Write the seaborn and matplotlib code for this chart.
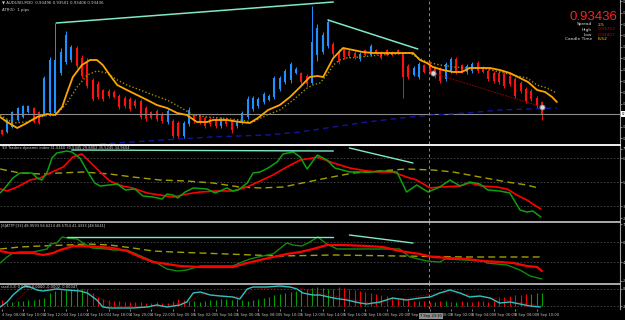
import numpy as np
import pandas as pd
import matplotlib
matplotlib.use('Agg')
import matplotlib.pyplot as plt
import matplotlib.transforms as mtrans
import seaborn as sns

sns.set_style('dark')
plt.rcParams['font.family'] = ['DejaVu Sans']

# ---- price candles (AUDUSD M30) ----
highs = [0.93361, 0.93411, 0.93451, 0.93471, 0.93481, 0.93481, 0.93471, 0.93451, 0.93626, 0.93721,
         0.93891, 0.93766, 0.93851, 0.93781, 0.93776, 0.93731, 0.93716, 0.93616, 0.93601, 0.93561,
         0.93561, 0.93556, 0.93536, 0.93526, 0.93521, 0.93511, 0.93511, 0.93476, 0.93451, 0.93461,
         0.93446, 0.93461, 0.93411, 0.93401, 0.93401, 0.93471, 0.93436, 0.93436, 0.93426, 0.93421,
         0.93421, 0.93421, 0.93421, 0.93411, 0.93411, 0.93451, 0.93526, 0.93526, 0.93521, 0.93546,
         0.93536, 0.93626, 0.93626, 0.93661, 0.93696, 0.93671, 0.93646, 0.93636, 0.93976, 0.93886,
         0.93846, 0.93911, 0.93796, 0.93761, 0.93771, 0.93761, 0.93751, 0.93746, 0.93761, 0.93786,
         0.93761, 0.93751, 0.93761, 0.93751, 0.93761, 0.93746, 0.93686, 0.93676, 0.93696, 0.93686,
         0.93701, 0.93676, 0.93671, 0.93696, 0.93721, 0.93721, 0.93686, 0.93686, 0.93696, 0.93701,
         0.93676, 0.93661, 0.93651, 0.93651, 0.93646, 0.93636, 0.93621, 0.93601, 0.93571, 0.93561,
         0.93526, 0.93501]
lows = [0.93331, 0.93341, 0.93366, 0.93401, 0.93416, 0.93441, 0.93391, 0.93386, 0.93426, 0.93426,
        0.93431, 0.93631, 0.93686, 0.93696, 0.93666, 0.93616, 0.93566, 0.93501, 0.93511, 0.93501,
        0.93516, 0.93516, 0.93461, 0.93466, 0.93451, 0.93466, 0.93411, 0.93401, 0.93411, 0.93401,
        0.93391, 0.93386, 0.93316, 0.93316, 0.93316, 0.93376, 0.93391, 0.93386, 0.93366, 0.93376,
        0.93366, 0.93366, 0.93376, 0.93341, 0.93366, 0.93386, 0.93411, 0.93451, 0.93466, 0.93486,
        0.93501, 0.93511, 0.93551, 0.93586, 0.93591, 0.93636, 0.93586, 0.93576, 0.93586, 0.93701,
        0.93736, 0.93766, 0.93726, 0.93686, 0.93711, 0.93716, 0.93711, 0.93701, 0.93726, 0.93726,
        0.93736, 0.93711, 0.93726, 0.93726, 0.93736, 0.93516, 0.93611, 0.93626, 0.93611, 0.93641,
        0.93641, 0.93616, 0.93591, 0.93601, 0.93641, 0.93636, 0.93641, 0.93636, 0.93641, 0.93641,
        0.93641, 0.93601, 0.93591, 0.93586, 0.93566, 0.93576, 0.93516, 0.93541, 0.93491, 0.93501,
        0.93466, 0.93406]
opens = [0.93356, 0.93346, 0.93371, 0.93406, 0.93421, 0.93446, 0.93466, 0.93446, 0.93431, 0.93446,
         0.93441, 0.93641, 0.93696, 0.93706, 0.93766, 0.93716, 0.93696, 0.93606, 0.93586, 0.93556,
         0.93551, 0.93546, 0.93526, 0.93516, 0.93511, 0.93501, 0.93501, 0.93466, 0.93446, 0.93451,
         0.93436, 0.93396, 0.93401, 0.93391, 0.93326, 0.93386, 0.93431, 0.93426, 0.93416, 0.93411,
         0.93411, 0.93376, 0.93411, 0.93401, 0.93376, 0.93396, 0.93421, 0.93461, 0.93476, 0.93496,
         0.93506, 0.93521, 0.93561, 0.93596, 0.93606, 0.93641, 0.93641, 0.93626, 0.93591, 0.93731,
         0.93746, 0.93776, 0.93786, 0.93751, 0.93761, 0.93751, 0.93741, 0.93711, 0.93756, 0.93731,
         0.93756, 0.93746, 0.93756, 0.93746, 0.93756, 0.93741, 0.93676, 0.93631, 0.93621, 0.93681,
         0.93691, 0.93671, 0.93661, 0.93611, 0.93651, 0.93711, 0.93681, 0.93646, 0.93651, 0.93691,
         0.93671, 0.93651, 0.93641, 0.93641, 0.93636, 0.93626, 0.93611, 0.93591, 0.93561, 0.93551,
         0.93516, 0.93496]
closes = [0.93336, 0.93406, 0.93446, 0.93466, 0.93476, 0.93476, 0.93396, 0.93391, 0.93616, 0.93706,
          0.93706, 0.93746, 0.93831, 0.93771, 0.93676, 0.93626, 0.93576, 0.93511, 0.93521, 0.93511,
          0.93526, 0.93521, 0.93471, 0.93476, 0.93461, 0.93476, 0.93421, 0.93411, 0.93416, 0.93411,
          0.93401, 0.93451, 0.93326, 0.93326, 0.93391, 0.93456, 0.93401, 0.93396, 0.93376, 0.93386,
          0.93376, 0.93411, 0.93386, 0.93356, 0.93401, 0.93441, 0.93511, 0.93516, 0.93511, 0.93536,
          0.93526, 0.93616, 0.93616, 0.93651, 0.93686, 0.93661, 0.93596, 0.93586, 0.93796, 0.93866,
          0.93831, 0.93896, 0.93736, 0.93696, 0.93721, 0.93726, 0.93721, 0.93736, 0.93731, 0.93776,
          0.93741, 0.93716, 0.93731, 0.93731, 0.93741, 0.93621, 0.93621, 0.93666, 0.93686, 0.93646,
          0.93651, 0.93626, 0.93601, 0.93686, 0.93711, 0.93646, 0.93646, 0.93676, 0.93686, 0.93651,
          0.93646, 0.93611, 0.93601, 0.93596, 0.93576, 0.93586, 0.93526, 0.93551, 0.93501, 0.93511,
          0.93476, 0.93436]

# moving averages on the price window (bar index, price)
ma_fast_x = [-0.3, 1.0, 2.9, 4.7, 6.6, 8.5, 10.0, 11.3, 12.2, 13.3, 15.0, 16.5, 17.8, 18.9, 20.2, 21.6,
             23.4, 25.3, 27.2, 29.0, 30.9, 32.8, 34.6, 36.5, 38.4, 39.5, 42.1, 44.5, 46.4, 47.9, 49.8,
             52.0, 53.9, 55.8, 57.6, 59.0, 60.1, 61.0, 62.0, 63.8, 65.7, 67.5, 69.4, 72.0, 74.4, 76.9,
             78.2, 79.5, 80.6, 82.5, 84.4, 86.0, 87.5, 89.4, 91.3, 93.1, 95.0, 96.9, 98.4, 100.1,
             101.6, 102.9, 103.8]
ma_fast_y = [0.93421, 0.93396, 0.93366, 0.93391, 0.93421, 0.93436, 0.93431, 0.93471, 0.93541, 0.93621,
             0.93681, 0.93706, 0.93706, 0.93681, 0.93631, 0.93581, 0.93556, 0.93531, 0.93506, 0.93481,
             0.93466, 0.93441, 0.93431, 0.93396, 0.93396, 0.93406, 0.93406, 0.93396, 0.93391, 0.93416,
             0.93456, 0.93481, 0.93521, 0.93571, 0.93621, 0.93626, 0.93621, 0.93666, 0.93716, 0.93766,
             0.93756, 0.93746, 0.93741, 0.93741, 0.93741, 0.93741, 0.93706, 0.93691, 0.93671, 0.93656,
             0.93646, 0.93646, 0.93666, 0.93666, 0.93666, 0.93656, 0.93641, 0.93616, 0.93596, 0.93556,
             0.93546, 0.93521, 0.93496]
ma_slow_x = [-0.3, 2.1, 4.7, 7.2, 9.0, 10.3, 12.2, 14.1, 16.0, 17.8, 19.7, 21.6, 23.4, 25.9, 28.3, 30.9,
             33.3, 35.8, 38.4, 40.8, 44.5, 47.0, 49.6, 52.0, 54.5, 57.1, 58.2, 59.5, 60.8, 62.0, 63.2,
             64.5, 67.0, 70.7, 76.3, 77.6, 79.5, 81.9, 84.4, 87.0, 89.9, 93.1, 95.6, 98.2, 100.1,
             101.9, 103.8]
ma_slow_y = [0.93431, 0.93391, 0.93396, 0.93421, 0.93431, 0.93436, 0.93491, 0.93571, 0.93631, 0.93651,
             0.93641, 0.93606, 0.93581, 0.93556, 0.93531, 0.93506, 0.93471, 0.93431, 0.93421, 0.93416,
             0.93406, 0.93396, 0.93431, 0.93456, 0.93506, 0.93566, 0.93581, 0.93591, 0.93631, 0.93681,
             0.93706, 0.93716, 0.93721, 0.93731, 0.93741, 0.93721, 0.93696, 0.93681, 0.93671, 0.93666,
             0.93666, 0.93646, 0.93631, 0.93616, 0.93581, 0.93566, 0.93541]
ma_long_x = [18.4, 39.0, 49.6, 55.8, 62.0, 68.3, 76.3, 80.6, 87.0, 93.1, 103.8]
ma_long_y = [0.93286, 0.93321, 0.93331, 0.93346, 0.93371, 0.93396, 0.93421, 0.93431, 0.93441, 0.93456, 0.93466]

# hand drawn trendlines (bar index, value)
tl_price_x = [[10.2, 62.0], [61.0, 77.8]]
tl_price_y = [[0.93891, 0.93996], [0.93906, 0.93761]]
ch_x = [80.6, 101.0]
ch_y = [0.93641, 0.93471]

# ---- TDI window ----
tdi_green_x = [-0.3, 0.6, 2.1, 3.4, 4.7, 5.7, 6.6, 7.5, 8.5, 9.4, 10.3, 12.2, 13.1, 14.6, 16.1, 17.4,
               18.4, 20.2, 21.6, 23.1, 24.9, 26.4, 28.3, 30.0, 30.9, 32.0, 32.9, 34.3, 35.8, 38.4,
               39.9, 42.1, 43.2, 44.2, 45.9, 47.0, 48.3, 49.8, 51.5, 52.6, 54.5, 55.8, 57.1, 59.0,
               60.8, 62.3, 65.1, 67.4, 69.4, 71.3, 73.9, 75.7, 77.6, 79.7, 81.9, 83.8, 85.7, 87.5,
               89.4, 90.9, 93.1, 95.0, 96.9, 98.2, 99.3, 100.8]
tdi_green_y = [41.75, 45.5, 53, 56.75, 56.75, 56.75, 53, 51.5, 57.5, 68, 71.75, 73.25, 72.5, 68, 57.5,
               49.25, 47, 47.75, 48.5, 44, 44.75, 39.5, 38.75, 37.25, 41, 40.25, 38, 42.5, 45.5, 44.75,
               41.75, 45.5, 43.25, 44, 49.25, 56.75, 57.5, 60.5, 65, 71, 72.5, 68.75, 59.75, 70.25,
               66.5, 60.5, 57.5, 57.5, 57.5, 58.25, 57.5, 42.5, 47.75, 42.5, 46.25, 51.5, 47, 50,
               48.5, 44, 43.25, 41.75, 29, 27.5, 28.25, 23.75]
tdi_red_x = [-0.3, 1.0, 2.9, 5.3, 7.2, 9.0, 11.5, 13.3, 15.0, 16.5, 18.4, 20.2, 22.5, 24.5, 27.2, 29.6,
             32.0, 34.6, 37.1, 40.2, 43.2, 45.9, 48.3, 50.7, 53.3, 55.8, 58.2, 59.0, 62.0, 65.1, 68.3,
             70.7, 73.1, 75.7, 77.6, 80.1, 81.9, 85.7, 87.5, 89.8, 92.6, 94.5, 96.3, 98.2, 99.3, 100.8]
tdi_red_y = [44.75, 43.25, 46.25, 51.5, 53, 56.75, 61.25, 68.75, 71, 65, 57.5, 50.75, 47, 45.5, 41.75,
             40.25, 38.75, 41, 42.5, 43.25, 43.25, 46.25, 50.75, 55.25, 61.25, 66.5, 68, 68.75, 64.25,
             60.5, 58.25, 57.5, 57.5, 53.75, 51.5, 45.5, 46.25, 47, 49.25, 47, 46.25, 44.75, 40.25,
             36.5, 33.5, 29.75]
tdi_base_x = [-0.3, 3.4, 7.2, 10.9, 15.2, 20.2, 24.5, 29.6, 34.6, 39.5, 44.5, 48.3, 52.6, 57.1, 60.8,
              65.7, 70.7, 75.7, 80.6, 84.4, 89.4, 94.5, 98.2, 100.3]
tdi_base_y = [59.75, 56.75, 56, 56.75, 57.5, 56, 53.75, 51.5, 50.75, 49.25, 46.25, 45.5, 46.25, 50, 53,
              56.75, 58.25, 59.75, 59, 57.5, 53.75, 50, 47.75, 45.5]
tdi_levels = [68, 50, 32]
tl_tdi_x = [[13.1, 62.0], [65.0, 76.9]]
tl_tdi_y = [[74, 73.25], [75.5, 64.25]]

# ---- second oscillator window ----
osc_green_x = [-0.3, 1.0, 2.1, 3.4, 5.9, 8.5, 9.0, 10.3, 11.3, 12.2, 14.1, 15.2, 16.9, 19.7, 20.8, 23.4,
               26.4, 29.0, 30.9, 32.8, 34.6, 37.1, 43.2, 44.5, 46.4, 48.8, 50.7, 52.4, 53.3, 54.5, 56.1,
               57.6, 59.1, 60.8, 62.7, 74.4, 76.3, 79.5, 81.9, 82.9, 90.3, 90.7, 94.5, 96.9, 98.8, 101.0]
osc_green_y = [39, 45, 49, 50, 50, 53, 58, 59, 65, 64, 63, 59, 54, 53, 52, 52, 45, 39, 33, 31, 32, 36,
               36, 39, 43, 46, 48, 55, 59, 57, 56, 60, 65, 58, 53, 53, 45, 41, 40, 43, 41, 39, 37, 32,
               26, 23]
osc_red_x = [-0.3, 1.6, 5.9, 7.7, 9.6, 10.9, 12.2, 13.3, 15.2, 18.4, 20.8, 23.4, 25.9, 28.3, 30.9, 33.3,
             37.1, 40.8, 43.2, 45.9, 48.3, 50.7, 53.3, 55.8, 58.2, 60.8, 63.8, 68.3, 71.3, 74.4, 78.2,
             80.6, 83.8, 87.0, 89.9, 93.1, 95.6, 98.2, 100.1, 101.0]
osc_red_y = [51, 49, 49, 47, 49, 52, 54, 56, 56, 55, 54, 51, 45, 40, 38, 36, 35, 35, 35, 39, 42, 45, 48,
             50, 53, 57, 57, 56, 55, 51, 48, 45, 44, 43, 41, 40, 39, 36, 35, 31]
osc_base_x = [-0.3, 3.4, 7.2, 12.2, 16.0, 20.2, 24.5, 28.3, 32.0, 37.1, 42.1, 47.0, 52.0, 62.0, 74.4,
              87.0, 100.7]
osc_base_y = [53, 55, 56, 57, 58, 57, 54, 51, 50, 49, 48, 47, 46, 47, 46, 45, 45]
osc_levels = [60, 40]
tl_osc_x = [[12.2, 62.0], [65.0, 76.9]]
tl_osc_y = [[65, 65], [67, 59]]

# ---- stochastic / histogram window ----
hist_vals = [41.5, 31, 34.5, 38, 38, 41.5, 41.5, 45, 48.5, 66, 73, 76.5, 76.5, 80, 83.5, 80, 80, 66, 52,
             45, 41.5, 38, 38, 34.5, 34.5, 34.5, 34.5, 31, 31, 34.5, 31, 31, 38, 45, 41.5, 38, 38, 34.5,
             38, 41.5, 41.5, 45, 45, 41.5, 45, 41.5, 38, 41.5, 45, 48.5, 52, 59, 62.5, 66, 69.5, 73,
             76.5, 80, 83.5, 87, 83.5, 80, 80, 87, 83.5, 80, 76.5, 73, 69.5, 66, 62.5, 59, 55.5, 52,
             48.5, 45, 45, 38, 38, 38, 34.5, 34.5, 38, 38, 34.5, 34.5, 38, 34.5, 34.5, 38, 38, 34.5,
             38, 52, 52, 55.5, 59, 59, 62.5, 62.5, 66, 66]
hist_cols = ('rgggggggggggggggrrrrrrrrrrrrrrrrrrrggggggggggggggggggggggrggggg'
             'rrrrrrrrrrrrrrrgrrgrgrgrgrrrrrrrrrr')
hist_base = 20
sto_x = [-0.3, 1.0, 2.1, 3.4, 4.4, 5.3, 6.6, 7.7, 9.0, 10.3, 12.2, 14.6, 16.0, 17.8, 18.9, 20.2, 22.1,
         24.5, 27.2, 29.0, 30.9, 33.3, 34.6, 35.8, 37.1, 39.0, 40.8, 43.2, 44.5, 45.9, 47.0, 49.6,
         52.0, 53.9, 55.2, 56.3, 58.2, 59.5, 62.0, 64.5, 67.0, 68.3, 70.7, 73.1, 75.7, 78.2, 80.1,
         81.9, 83.8, 85.7, 87.5, 89.4, 91.3, 93.1, 95.0, 96.9, 98.8, 100.7]
sto_y = [17, 34.5, 59, 80, 90.5, 87, 76.5, 73, 76.5, 80, 76.5, 73, 66, 41.5, 17, 13.5, 13.5, 13.5, 17,
         24, 17, 24, 34.5, 66, 69.5, 59, 55.5, 52, 45, 80, 87, 87, 90.5, 87, 80, 66, 59, 59, 48.5,
         41.5, 31, 27.5, 34.5, 48.5, 41.5, 48.5, 52, 66, 76.5, 66, 52, 55.5, 48.5, 31, 34.5, 27.5,
         20.5, 17]
sig_x = [2.1, 4.4, 6.2, 10.9, 15.6, 18.4, 21.2, 27.7, 35.2, 37.1, 44.5, 47.4, 54.8, 59.5, 67.0, 69.8,
         74.4, 82.9, 87.5, 94.1, 101.0]
sig_y = [24, 69.5, 87, 80, 73, 48.5, 20.5, 17, 34.5, 62.5, 52, 80, 87, 66, 38, 27.5, 45, 69.5, 59,
         41.5, 20.5]
sto_levels = [80, 20]

time_labels = ['4 Sep 08:00', '4 Sep 10:00', '4 Sep 12:00', '4 Sep 14:00', '4 Sep 16:00',
               '4 Sep 18:00', '4 Sep 20:00', '4 Sep 22:00', '5 Sep 00:00', '5 Sep 02:00',
               '5 Sep 04:00', '5 Sep 06:00', '5 Sep 08:00', '5 Sep 10:00', '5 Sep 12:00',
               '5 Sep 14:00', '5 Sep 16:00', '5 Sep 18:00', '5 Sep 20:00', '7 Sep 22:00',
               '8 Sep 00:00', '8 Sep 02:00', '8 Sep 04:00', '8 Sep 06:00', '8 Sep 08:00',
               '8 Sep 10:00']

bid = closes[-1]
day_high, day_low = 0.93752, 0.93407
cross_bar = 79.9

W, H = 625, 320
fig = plt.figure(figsize=(W / 100, H / 100), dpi=100, facecolor='black')


def add_panel(top, bottom):
    ax = fig.add_axes([0, 1 - bottom / H, 620 / W, (bottom - top) / H])
    ax.set_facecolor('black')
    ax.set_xlim(-0.32, 115.6)
    for s in ['left', 'bottom']:
        ax.spines[s].set_visible(False)
    ax.spines['right'].set_color('#a0a0a0')
    ax.spines['right'].set_linewidth(0.8)
    ax.spines['top'].set_color('#c8c8c8')
    ax.spines['top'].set_linewidth(1.2)
    ax.yaxis.tick_right()
    ax.tick_params(axis='y', colors='#b0b0b0', labelsize=2.6, length=1.5, width=0.5, pad=0.5)
    ax.tick_params(axis='x', bottom=False, labelbottom=False)
    ax.grid(False)
    ax.set_xlabel('')
    ax.set_ylabel('')
    return ax


ax1 = add_panel(0, 144)
ax2 = add_panel(145, 221)
ax3 = add_panel(222, 283)
ax4 = add_panel(284, 309)
ax1.spines['top'].set_visible(False)
ax2.spines['top'].set_color('#f0f0f0')
ax2.spines['top'].set_linewidth(1.4)

# --- main price window ---
ax1.set_ylim(0.93286, 0.94006)
idx = np.arange(len(opens))
up = np.array(closes) >= np.array(opens)
cols = np.where(up, '#1e90ff', '#ff1010')
ax1.vlines(idx, lows, highs, colors=cols, lw=0.7)
ax1.vlines(idx, np.minimum(opens, closes), np.maximum(opens, closes), colors=cols, lw=1.5)
ax1.axhline(bid, color='#8c8c8c', lw=0.8)
sns.lineplot(x=ma_long_x, y=ma_long_y, ax=ax1, color='#1414a0', lw=1.0, linestyle=(0, (4, 3)))
sns.lineplot(x=ma_slow_x, y=ma_slow_y, ax=ax1, color='#a08c00', lw=1.0, linestyle=(0, (1, 1.5)))
sns.lineplot(x=ma_fast_x, y=ma_fast_y, ax=ax1, color='#ffa500', lw=1.3)
for tx, ty in zip(tl_price_x, tl_price_y):
    ax1.plot(tx, ty, color='#7fe8c8', lw=1.1)
ax1.plot(ch_x, ch_y, color='#8b0000', lw=0.7, linestyle=(0, (2, 1)))
ax1.scatter(ch_x, ch_y, s=14, facecolor='#d8d8d8', edgecolor='#707070', lw=0.6, zorder=5)
ax1.set_yticks(np.arange(0.93316, 0.94006, 0.00057))
ax1.set_yticklabels([f'{v:.5f}' for v in np.arange(0.93316, 0.94006, 0.00057)])
tr = mtrans.blended_transform_factory(ax1.transAxes, ax1.transData)
ax1.text(1.003, bid, f'{bid:.5f}', transform=tr, fontsize=2.6, color='black', va='center',
         bbox=dict(boxstyle='square,pad=0.15', fc='white', ec='none'))

# --- TDI ---
ax2.set_ylim(20.75, 77.75)
for lv in tdi_levels:
    ax2.axhline(lv, color='#4a4a4a', lw=0.6, linestyle=(0, (2, 2)))
sns.lineplot(x=tdi_base_x, y=tdi_base_y, ax=ax2, color='#a0a000', lw=1.0, linestyle=(0, (5, 3)))
sns.lineplot(x=tdi_red_x, y=tdi_red_y, ax=ax2, color='#ff0000', lw=1.2)
sns.lineplot(x=tdi_green_x, y=tdi_green_y, ax=ax2, color='#10a010', lw=1.1)
for tx, ty in zip(tl_tdi_x, tl_tdi_y):
    ax2.plot(tx, ty, color='#7fe8c8', lw=1.0)
ax2.set_yticks([75, 68, 50, 32, 23])

# --- second oscillator ---
ax3.set_ylim(19, 80)
for lv in osc_levels:
    ax3.axhline(lv, color='#4a4a4a', lw=0.6, linestyle=(0, (2, 2)))
sns.lineplot(x=osc_base_x, y=osc_base_y, ax=ax3, color='#a0a000', lw=1.0, linestyle=(0, (5, 3)))
sns.lineplot(x=osc_green_x, y=osc_green_y, ax=ax3, color='#108a10', lw=1.0)
sns.lineplot(x=osc_red_x, y=osc_red_y, ax=ax3, color='#ff0000', lw=1.6)
for tx, ty in zip(tl_osc_x, tl_osc_y):
    ax3.plot(tx, ty, color='#7fe8c8', lw=1.0)
ax3.set_yticks([78, 60, 40, 21])

# --- histogram + stochastic ---
ax4.set_ylim(10, 97.5)
for lv in sto_levels:
    ax4.axhline(lv, color='#4a4a4a', lw=0.6, linestyle=(0, (2, 2)))
hcol = ['#00a000' if c == 'g' else '#ff0000' for c in hist_cols]
ax4.vlines(idx, hist_base, hist_vals, colors=hcol, lw=0.8)
sns.lineplot(x=sig_x, y=sig_y, ax=ax4, color='#a00000', lw=0.6, linestyle=(0, (1, 1)))
sns.lineplot(x=sto_x, y=sto_y, ax=ax4, color='#30c0c0', lw=1.0)
ax4.set_yticks([80, 20])
ax4.set_xticks(np.arange(len(time_labels)) * 4)
ax4.set_xticklabels(time_labels)
ax4.tick_params(axis='x', bottom=True, labelbottom=True, colors='#c0c0c0', labelsize=2.6,
                length=1.5, width=0.5, pad=1.5)
for lab in ax4.get_xticklabels():
    lab.set_horizontalalignment('left')
for ax in [ax1, ax2, ax3, ax4]:
    ax.axvline(cross_bar, color='#8c8c8c', lw=0.7, linestyle=(0, (3, 3)))
    ax.set_xlim(-0.32, 115.6)

# --- texts ---
def ftext(x, y, s, **kw):
    fig.text(x / W, 1 - y / H, s, **kw)

ftext(2, 4, '\u25bc AUDUSD,M30  0.93496 0.93501 0.93406 0.93436', color='#d0d0d0', fontsize=2.8)
ftext(2, 11, 'ATR(5)  1 pips', color='#d0d0d0', fontsize=2.8)
ftext(1, 149.5, 'TDI Traders dynamic index 31.0460 30.5345 29.8802 35.5245 34.9604',
      color='#d0d0d0', fontsize=2.6)
ftext(1, 226, '[6]ATTP [33] 48.9593 56.6214 48.5754 41.4333 [48.5641]', color='#d0d0d0',
      fontsize=2.6)
ftext(1, 288, 'ssst(3,3) 0.0000 0.0000 -0.0002  0.00047', color='#d0d0d0', fontsize=2.6)

ftext(617, 19.5, f'{bid:.5f}', color='#ff2020', fontsize=9.5, ha='right',
      family=['Liberation Sans', 'DejaVu Sans'])
rows = [('Spread', '2.5', '#ffd700'), ('High', f'{day_high:.5f}', '#d00000'),
        ('Low', f'{day_low:.5f}', '#d00000'), ('Candle Time', '6:52', '#ffd700')]
for k, (lab, val, c) in enumerate(rows):
    ftext(592, 25.5 + 5 * k, lab, color='#e0e0e0', fontsize=3.2, ha='right')
    ftext(598, 25.5 + 5 * k, val, color=c, fontsize=3.2, ha='left')
ftext(431, 317, '7 Sep 23:30', color='black', fontsize=2.6, ha='center',
      bbox=dict(boxstyle='square,pad=0.2', fc='#8c8c8c', ec='none'))

fig.savefig('out.png', dpi=100, facecolor='black')
